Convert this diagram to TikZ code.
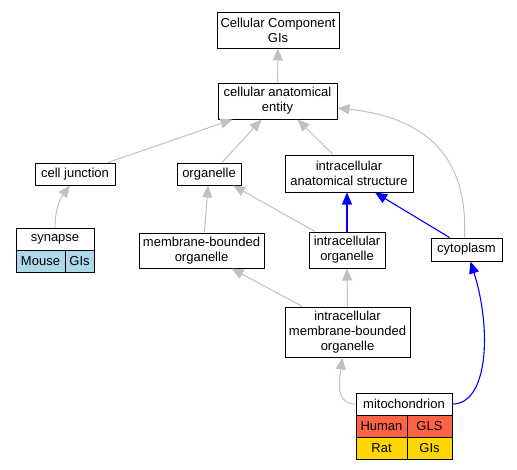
\documentclass[tikz,border=0pt]{standalone}
\usepackage{fontspec}
\setmainfont{Liberation Sans}
\usetikzlibrary{arrows.meta,calc}
\definecolor{edgegray}{HTML}{C0C0C0}
\definecolor{edgeblue}{HTML}{0000FF}
\definecolor{cellblue}{HTML}{ADD8E6}
\definecolor{celltomato}{HTML}{FF6347}
\definecolor{cellgold}{HTML}{FFD700}
\tikzset{
  termbox/.style={draw=black, line width=1pt, fill=white, align=center, inner sep=0pt, minimum width=#1},
  grayedge/.style={draw=edgegray, line width=1pt, -{Triangle[length=12pt,width=10pt]}, edgegray},
  blueedge/.style={draw=edgeblue, line width=1.1pt, -{Triangle[length=12pt,width=10pt]}, edgeblue},
}
\begin{document}
\begin{tikzpicture}[x=1pt,y=-1pt,font=\fontsize{13}{15}\selectfont]
\useasboundingbox (0,0) rectangle (517,469);
% nodes
\node[termbox=122pt, minimum height=36pt] (ccg) at (278,30) {Cellular Component\\GIs};
\node[termbox=119pt, minimum height=36pt] (cae) at (277.5,101) {cellular anatomical\\entity};
\node[termbox=80pt, minimum height=22pt] (cj) at (75,174) {cell junction};
\node[termbox=64pt, minimum height=22pt] (org) at (209,174) {organelle};
\node[termbox=128pt, minimum height=37pt] (ias) at (349,173.5) {intracellular\\anatomical structure};
\node[termbox=78pt, minimum height=22pt] (syn) at (55,239) {synapse};
\node[termbox=49pt, minimum height=22pt, fill=cellblue] (synmouse) at (40.5,261) {Mouse};
\node[termbox=29pt, minimum height=22pt, fill=cellblue] (syngis) at (79.5,261) {GIs};
\node[termbox=125pt, minimum height=35pt] (mbo) at (201.5,250.5) {membrane-bounded\\organelle};
\node[termbox=76pt, minimum height=36pt] (io) at (347,250) {intracellular\\organelle};
\node[termbox=71pt, minimum height=23pt] (cyt) at (466.5,249.5) {cytoplasm};
\node[termbox=125pt, minimum height=50pt] (imbo) at (347.5,332) {intracellular\\membrane-bounded\\organelle};
\node[termbox=96pt, minimum height=22pt] (mito) at (404,404) {mitochondrion};
\node[termbox=51pt, minimum height=22pt, fill=celltomato] (mhuman) at (381.5,426) {Human};
\node[termbox=45pt, minimum height=22pt, fill=celltomato] (mgls) at (429.5,426) {GLS};
\node[termbox=51pt, minimum height=22pt, fill=cellgold] (mrat) at (381.5,448) {Rat};
\node[termbox=45pt, minimum height=22pt, fill=cellgold] (mgis) at (429.5,448) {GIs};
% edges
\draw[grayedge] (cae.north) -- (ccg.south);
\draw[grayedge] ([xshift=33pt]cj.north) -- ([xshift=-45pt]cae.south);
\draw[grayedge] ([xshift=13pt]org.north) -- ([xshift=-16pt]cae.south);
\draw[grayedge] ([xshift=-16pt]ias.north) -- ([xshift=20pt]cae.south);
\draw[grayedge] ([xshift=-2pt]cyt.north) .. controls (468,160) and (430,118) .. ([yshift=-7pt]cae.east);
\draw[grayedge] (syn.north) .. controls (55,207) and (62,196) .. ([xshift=-5pt]cj.south);
\draw[grayedge] ([xshift=3pt]mbo.north) -- ([xshift=-1pt]org.south);
\draw[grayedge] ([xshift=-32pt]io.north) -- ([xshift=24pt]org.south);
\draw[blueedge] (io.north) -- (io.north |- ias.south);
\draw[blueedge] ([xshift=-17pt]cyt.north) -- ([xshift=26pt]ias.south);
\draw[grayedge] ([xshift=-45pt]imbo.north) -- ([xshift=30pt]mbo.south);
\draw[grayedge] (imbo.north) -- (io.south);
\draw[grayedge] (mito.west) .. controls (338,404) and (338,388) .. ([xshift=-5pt]imbo.south);
\draw[blueedge] (mito.east) .. controls (488,404) and (492,330) .. ([xshift=4pt]cyt.south);
\end{tikzpicture}
\end{document}
